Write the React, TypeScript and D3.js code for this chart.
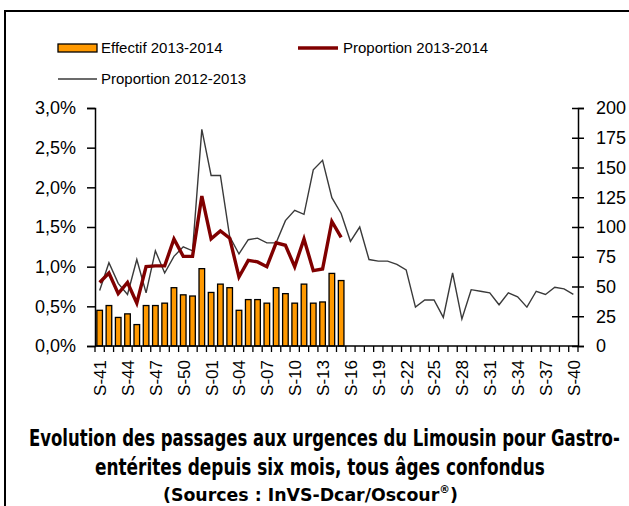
import React, { useEffect, useRef } from "react";
import * as d3 from "d3";

// semaines S-41 (2013) -> S-40 (2014)
const weeks = [
  "S-41", "S-42", "S-43", "S-44", "S-45", "S-46", "S-47", "S-48", "S-49", "S-50", "S-51", "S-52",
  "S-01", "S-02", "S-03", "S-04", "S-05", "S-06", "S-07", "S-08", "S-09", "S-10",
  "S-11", "S-12", "S-13", "S-14", "S-15", "S-16", "S-17", "S-18", "S-19", "S-20",
  "S-21", "S-22", "S-23", "S-24", "S-25", "S-26", "S-27", "S-28", "S-29", "S-30",
  "S-31", "S-32", "S-33", "S-34", "S-35", "S-36", "S-37", "S-38", "S-39", "S-40",
];

const tickWeeks = [
  "S-41", "S-44", "S-47", "S-50", "S-01", "S-04", "S-07", "S-10", "S-13", "S-16",
  "S-19", "S-22", "S-25", "S-28", "S-31", "S-34", "S-37", "S-40",
];

// effectif 2013-2014 (axe droit)
const effectif1314 = [
  30, 34, 24, 27, 18, 34, 34, 36, 49, 43, 42, 65,
  45, 52, 49, 30, 39, 39, 36, 49, 44, 36, 52, 36, 37, 61, 55,
];

// proportions en % (axe gauche)
const proportion1314 = [
  0.80, 0.92, 0.66, 0.80, 0.54, 1.00, 1.01, 1.01, 1.35, 1.13, 1.13, 1.89,
  1.35, 1.45, 1.36, 0.87, 1.08, 1.06, 1.00, 1.30, 1.27, 1.00, 1.35, 0.95, 0.97, 1.57, 1.37,
];

const proportion1213 = [
  0.70, 1.05, 0.79, 0.65, 1.09, 0.67, 1.20, 0.92, 1.13, 1.25, 1.20, 2.73,
  2.15, 2.15, 1.38, 1.16, 1.34, 1.36, 1.30, 1.30, 1.58, 1.71,
  1.66, 2.22, 2.34, 1.87, 1.67, 1.32, 1.50, 1.09, 1.07, 1.07,
  1.03, 0.96, 0.49, 0.58, 0.58, 0.36, 0.92, 0.34, 0.71, 0.69,
  0.67, 0.52, 0.67, 0.62, 0.49, 0.69, 0.65, 0.74, 0.72, 0.65,
];

const leftTicks = [0, 0.5, 1.0, 1.5, 2.0, 2.5, 3.0];
const rightTicks = [0, 25, 50, 75, 100, 125, 150, 175, 200];

const App = () => {
  const ref = useRef<SVGSVGElement | null>(null);

  useEffect(() => {
    const width = 629;
    const height = 506;
    const margin = { top: 108, right: 51, bottom: 160, left: 95 };
    const font = "'Liberation Sans', Arial, sans-serif";

    const svg = d3.select(ref.current);
    svg.selectAll("*").remove();

    // cadre
    svg.append("path")
      .attr("d", `M5,${height} V11 H${width}`)
      .attr("fill", "none")
      .attr("stroke", "#000")
      .attr("stroke-width", 2);

    const x = d3.scaleBand()
      .domain(weeks)
      .range([margin.left, width - margin.right]);

    const yL = d3.scaleLinear()
      .domain([0, 3])
      .range([height - margin.bottom, margin.top]);

    const yR = d3.scaleLinear()
      .domain([0, 200])
      .range([height - margin.bottom, margin.top]);

    const cx = (w: string) => (x(w) as number) + x.bandwidth() / 2;

    // barres
    svg.append("g")
      .selectAll("rect")
      .data(effectif1314)
      .enter()
      .append("rect")
      .attr("x", (d, i) => cx(weeks[i]) - 2.8)
      .attr("y", d => yR(d))
      .attr("width", 5.6)
      .attr("height", d => yR(0) - yR(d))
      .attr("fill", "#FF9900")
      .attr("stroke", "#000")
      .attr("stroke-width", 1.3);

    const line = d3.line<number>()
      .x((d, i) => cx(weeks[i]))
      .y(d => yL(d));

    svg.append("path")
      .datum(proportion1213)
      .attr("d", line)
      .attr("fill", "none")
      .attr("stroke", "#3a3a3a")
      .attr("stroke-width", 1.4);

    svg.append("path")
      .datum(proportion1314)
      .attr("d", line)
      .attr("fill", "none")
      .attr("stroke", "#800000")
      .attr("stroke-width", 3.4)
      .attr("stroke-linejoin", "miter");

    // axe gauche
    const gL = svg.append("g")
      .attr("transform", `translate(${margin.left},0)`)
      .call(d3.axisLeft(yL)
        .tickValues(leftTicks)
        .tickFormat(d => d3.format(".1f")(d as number).replace(".", ",") + "%")
        .tickSizeOuter(0)
        .tickSize(8)
        .tickPadding(11));
    gL.select(".domain").attr("stroke-width", 1.5);
    gL.selectAll(".tick line").attr("stroke-width", 1.5);
    gL.selectAll("text").attr("font-family", font).attr("font-size", 18).attr("fill", "#000");

    // axe droit
    const gR = svg.append("g")
      .attr("transform", `translate(${width - margin.right},0)`)
      .call(d3.axisRight(yR)
        .tickValues(rightTicks)
        .tickSizeOuter(0)
        .tickSize(6)
        .tickPadding(12));
    gR.select(".domain").attr("stroke-width", 1.5);
    gR.selectAll(".tick line").attr("x1", -6).attr("stroke-width", 1.5);
    gR.selectAll("text").attr("font-family", font).attr("font-size", 18).attr("fill", "#000");

    // axe des semaines
    const gX = svg.append("g")
      .attr("transform", `translate(0,${height - margin.bottom})`);
    gX.append("line")
      .attr("x1", margin.left).attr("x2", width - margin.right)
      .attr("stroke", "#000").attr("stroke-width", 1.5);
    gX.selectAll("line.tk")
      .data(weeks.concat(["end"]))
      .enter()
      .append("line")
      .attr("class", "tk")
      .attr("x1", (d, i) => margin.left + i * x.step())
      .attr("x2", (d, i) => margin.left + i * x.step())
      .attr("y1", 0).attr("y2", 6)
      .attr("stroke", "#000").attr("stroke-width", 1.3);
    gX.selectAll("text")
      .data(tickWeeks)
      .enter()
      .append("text")
      .attr("transform", d => `translate(${cx(d) + 0.5},14) rotate(-90)`)
      .attr("text-anchor", "end")
      .attr("dy", "0.35em")
      .attr("font-family", font)
      .attr("font-size", 17)
      .text(d => d);

    // légende
    const lg = svg.append("g").attr("font-family", font).attr("font-size", 15);
    lg.append("rect")
      .attr("x", 58).attr("y", 44).attr("width", 39).attr("height", 8)
      .attr("fill", "#FF9900").attr("stroke", "#000").attr("stroke-width", 1.3);
    lg.append("text").attr("x", 101).attr("y", 48).attr("dy", "0.35em").text("Effectif 2013-2014");
    lg.append("line")
      .attr("x1", 298).attr("x2", 338).attr("y1", 48).attr("y2", 48)
      .attr("stroke", "#800000").attr("stroke-width", 3.4);
    lg.append("text").attr("x", 343).attr("y", 48).attr("dy", "0.35em").text("Proportion 2013-2014");
    lg.append("line")
      .attr("x1", 58).attr("x2", 97).attr("y1", 79).attr("y2", 79)
      .attr("stroke", "#3a3a3a").attr("stroke-width", 1.4);
    lg.append("text").attr("x", 101).attr("y", 79).attr("dy", "0.35em").text("Proportion 2012-2013");

    // titre : police condensée, mise à la largeur de l'original
    const titleFont = "'Liberation Sans Narrow', 'DejaVu Sans Condensed', 'Liberation Sans', sans-serif";
    const fitText = (tx: number, ty: number, w: number) => (t: d3.Selection<SVGTextElement, unknown, null, undefined>) => {
      const node = t.node() as SVGTextElement;
      const len = node.getComputedTextLength();
      t.attr("transform", `translate(${tx},${ty}) scale(${w / len},1)`);
    };

    svg.append("text")
      .attr("font-family", titleFont).attr("font-size", 23).attr("font-weight", 600)
      .text("Evolution des passages aux urgences  du Limousin pour Gastro-")
      .call(fitText(29, 446, 591));
    svg.append("text")
      .attr("font-family", titleFont).attr("font-size", 23).attr("font-weight", 600)
      .text("entérites depuis six mois, tous âges confondus")
      .call(fitText(95, 475, 450));
    const src = svg.append("text")
      .attr("font-family", titleFont).attr("font-size", 18).attr("font-weight", "bold");
    src.append("tspan").text("(Sources : InVS-Dcar/Oscour");
    src.append("tspan").attr("font-size", 11).attr("dy", -8).text("®");
    src.append("tspan").attr("dy", 8).text(")");
    src.call(fitText(163, 501, 295));
  }, []);

  return (
    <svg
      ref={ref}
      width={629}
      height={506}
      style={{ position: "absolute", left: 0, top: 0, background: "#fff" }}
    />
  );
};

export default App;
